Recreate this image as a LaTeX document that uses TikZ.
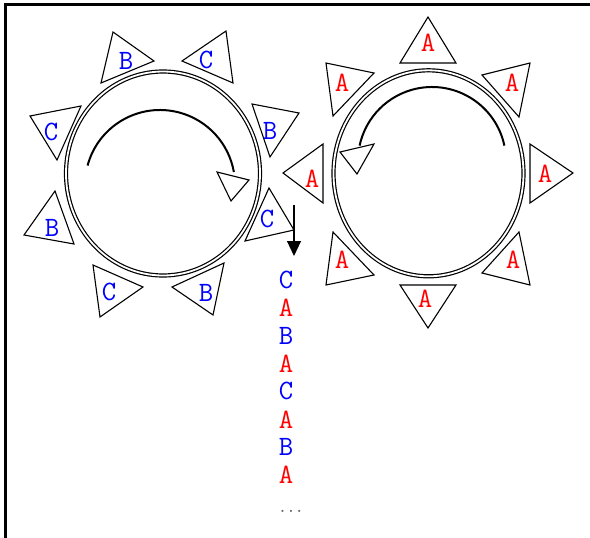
\documentclass[tikz,border=0pt]{standalone}
\usepackage{fontspec}
\usepackage{xcolor}
\usetikzlibrary{arrows.meta}
\definecolor{LetBlue}{RGB}{0,0,255}
\definecolor{LetRed}{RGB}{255,0,0}

\begin{document}
\begin{tikzpicture}[x=1pt, y=1pt,
	tooth/.style={draw=black, line width=1.1pt, line join=miter},
	ring/.style={draw=black, line width=1.2pt, double=white, double distance=1.8pt},
	turn/.style={line width=2pt},
	letter/.style={inner sep=0pt, font=\ttfamily\fontsize{28}{28}\selectfont},
	blueletter/.style={letter, text=LetBlue},
	redletter/.style={letter, text=LetRed}]
	\useasboundingbox (0,0) rectangle (590,-538);
	
	% 边框
	\draw[line width=2.3pt] (5.5,-538) -- (5.5,-4.5) -- (590,-4.5);
	
	% 左轮
	\draw[ring] (163,-173.5) ellipse[x radius=97, y radius=102];
	
	% 左轮齿 B/C
	\draw[tooth] (113,-32) -- (154,-61) -- (101,-83) -- cycle (126,-61) node[blueletter] (lb1) {B};
	\draw[tooth] (226,-31) -- (182,-61) -- (233,-83) -- cycle (206,-60) node[blueletter] (lc1) {C};
	\draw[tooth] (252,-104) -- (299,-113) -- (270,-157) -- cycle (270,-131) node[blueletter] (lb2) {B};
	\draw[tooth] (269,-188) -- (294,-230) -- (245,-241) -- cycle (267,-219) node[blueletter] (lc2) {C};
	\draw[tooth] (224,-263) -- (213,-315) -- (172,-287) -- cycle (206,-293) node[blueletter] (lb3) {B};
	\draw[tooth] (93,-265) -- (143,-287) -- (100,-317) -- cycle (109,-292) node[blueletter] (lc3) {C};
	\draw[tooth] (55,-191) -- (74,-244) -- (24,-235) -- cycle (52,-228) node[blueletter] (lb4) {B};
	\draw[tooth] (30,-116) -- (81,-106) -- (57,-160) -- cycle (51,-132) node[blueletter] (lc4) {C};
	
	% 左轮转向（顺时针）
	\draw[turn] (160,-185) ++(165:75) arc[start angle=165, end angle=10, radius=75];
	\draw[tooth, fill=white] (217,-172) -- (249,-180) -- (231,-201) -- cycle;
	
	% 右轮
	\draw[ring] (428.5,-173.3) ellipse[x radius=95, y radius=103];
	
	% 右轮齿 A
	\draw[tooth] (428,-17) -- (400,-63) -- (456,-63) -- cycle (428,-43) node[redletter] (ra1) {A};
	\draw[tooth] (482,-75) -- (530,-63) -- (519,-117) -- cycle (512,-83) node[redletter] (ra2) {A};
	\draw[tooth] (530,-144) -- (573,-173) -- (530,-203) -- cycle (545,-174) node[redletter] (ra3) {A};
	\draw[tooth] (482,-273) -- (519,-232) -- (530,-285) -- cycle (513,-260) node[redletter] (ra4) {A};
	\draw[tooth] (400,-285) -- (456,-285) -- (428,-328) -- cycle (425,-299) node[redletter] (ra5) {A};
	\draw[tooth] (333,-232) -- (374,-275) -- (326,-285) -- cycle (342,-260) node[redletter] (ra6) {A};
	\draw[tooth] (323,-144) -- (283,-173) -- (323,-203) -- cycle (312,-179) node[redletter] (ra7) {A};
	\draw[tooth] (326,-63) -- (374,-73) -- (333,-116) -- cycle (342,-83) node[redletter] (ra8) {A};
	
	% 右轮转向（逆时针）
	\draw[turn] (432,-161) ++(12:74) arc[start angle=12, end angle=168, radius=74];
	\draw[tooth, fill=white] (340,-152) -- (374,-144) -- (357,-174) -- cycle;
	
	% 输出箭头
	\coordinate (drop) at (294,-205);
	\coordinate (dropend) at (294,-256);
	\draw[line width=1.1pt, -{Triangle[length=15pt, width=14pt]}] (drop) -- (dropend);
	
	% 输出序列
	\foreach \t/\c [count=\i] in {C/LetBlue, A/LetRed, B/LetBlue, A/LetRed, C/LetBlue, A/LetRed, B/LetBlue, A/LetRed}
		\node[letter, text=\c] (seq\i) at (286, {-280-27.86*(\i-1)}) {\t};
	\node[inner sep=0pt, text=black!60, font=\ttfamily\bfseries\fontsize{16}{16}\selectfont] (dots) at (291,-511) {...};
\end{tikzpicture}
\end{document}
